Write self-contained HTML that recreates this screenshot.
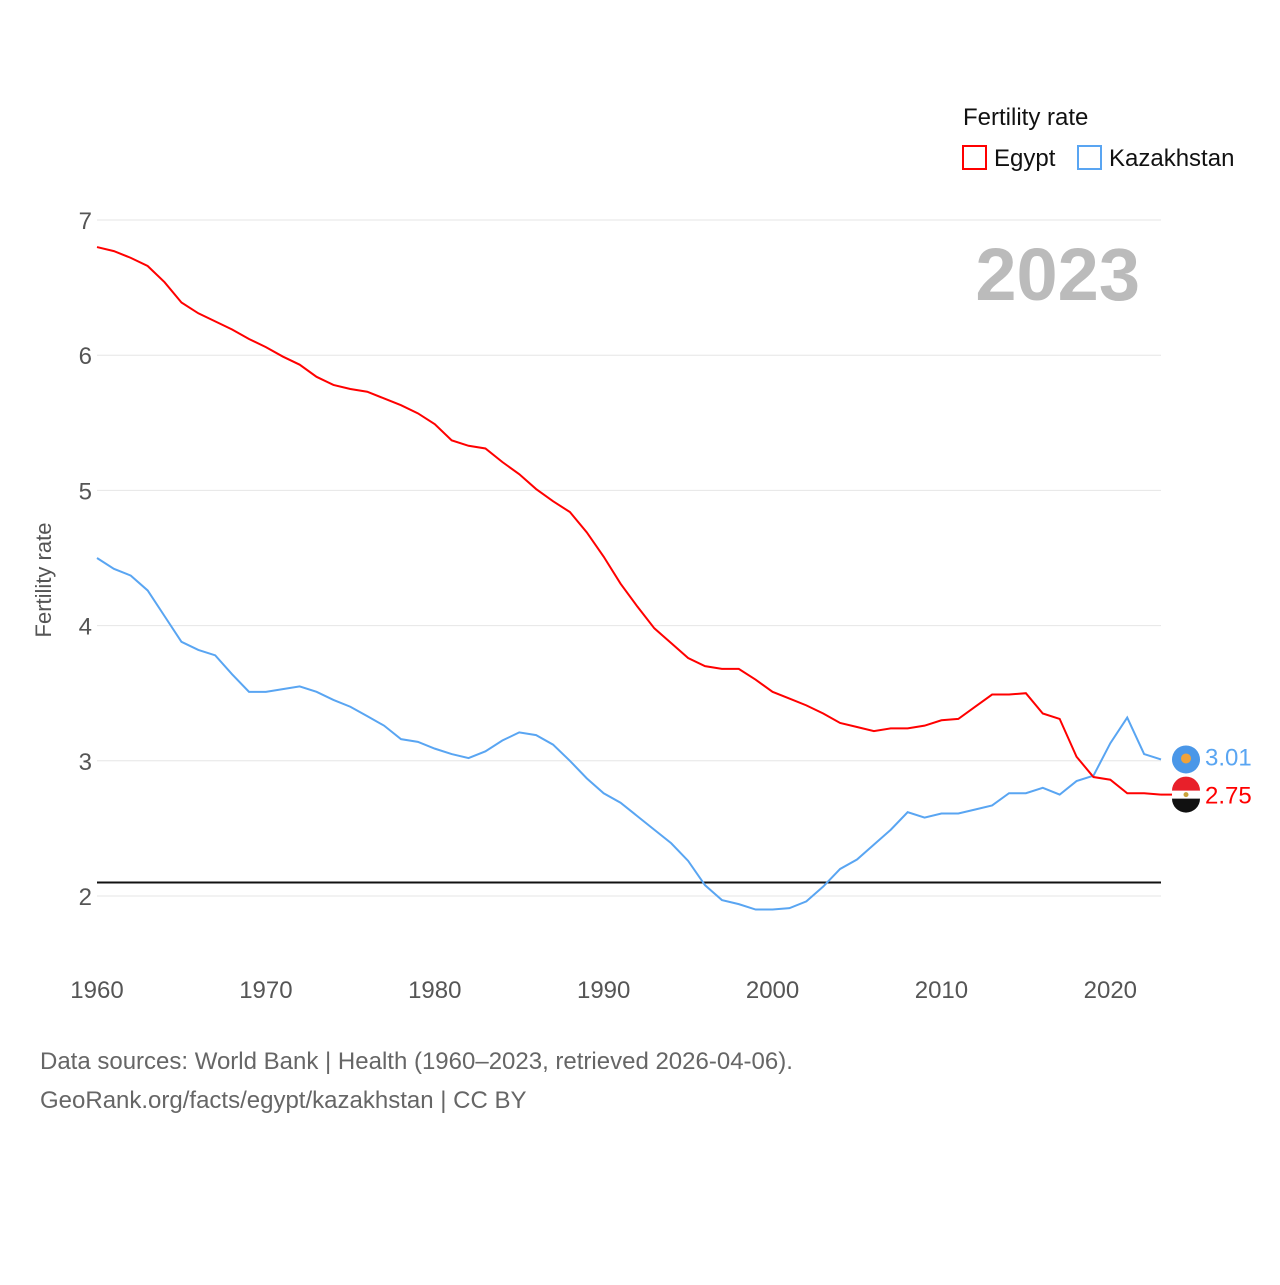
<!DOCTYPE html>
<html><head><meta charset="utf-8"><style>
body{margin:0;background:#fff;font-family:"Liberation Sans",sans-serif}
</style></head><body>
<svg id="c" width="1280" height="1280" viewBox="0 0 1280 1280" style="font-family:'Liberation Sans',sans-serif">
<text x="963" y="125" font-size="24" fill="#111">Fertility rate</text>
<rect x="963" y="146" width="23" height="23" fill="none" stroke="#f00" stroke-width="2"/>
<text x="994" y="166" font-size="24" fill="#111">Egypt</text>
<rect x="1078" y="146" width="23" height="23" fill="none" stroke="#59a5f2" stroke-width="2"/>
<text x="1109" y="166" font-size="24" fill="#111">Kazakhstan</text>
<text x="1140" y="300" font-size="74" font-weight="bold" fill="#bbb" text-anchor="end">2023</text>
<text transform="translate(51,580) rotate(-90)" font-size="22" fill="#555" text-anchor="middle">Fertility rate</text>
<g id="grid"></g><g id="lines"></g><g id="marks"></g>
<text x="40" y="1069" font-size="24" fill="#666">Data sources: World Bank | Health (1960–2023, retrieved 2026-04-06).</text>
<text x="40" y="1108" font-size="24" fill="#666">GeoRank.org/facts/egypt/kazakhstan | CC BY</text>
</svg>
<script>
const years=[];for(let y=1960;y<=2023;y++)years.push(y);
const egypt=[6.80,6.77,6.72,6.66,6.54,6.39,6.31,6.25,6.19,6.12,6.06,5.99,5.93,5.84,5.78,5.75,5.73,5.68,5.63,5.57,5.49,5.37,5.33,5.31,5.21,5.12,5.01,4.92,4.84,4.69,4.51,4.31,4.14,3.98,3.87,3.76,3.70,3.68,3.68,3.60,3.51,3.46,3.41,3.35,3.28,3.25,3.22,3.24,3.24,3.26,3.30,3.31,3.40,3.49,3.49,3.50,3.35,3.31,3.03,2.88,2.86,2.76,2.76,2.75];
const kazakhstan=[4.50,4.42,4.37,4.26,4.07,3.88,3.82,3.78,3.64,3.51,3.51,3.53,3.55,3.51,3.45,3.40,3.33,3.26,3.16,3.14,3.09,3.05,3.02,3.07,3.15,3.21,3.19,3.12,3.00,2.87,2.76,2.69,2.59,2.49,2.39,2.26,2.08,1.97,1.94,1.90,1.90,1.91,1.96,2.07,2.20,2.27,2.38,2.49,2.62,2.58,2.61,2.61,2.64,2.67,2.76,2.76,2.80,2.75,2.85,2.89,3.13,3.32,3.05,3.01];
const yTicks=[2,3,4,5,6,7];
const xTicks=[1960,1970,1980,1990,2000,2010,2020];
const replacement=2.1;
const X=v=>97+(v-1960)*(1161-97)/63;
const Y=v=>896-(v-2)*135.2;
const NS="http://www.w3.org/2000/svg";
function mk(t,a,p){const e=document.createElementNS(NS,t);for(const k in a)e.setAttribute(k,a[k]);p.appendChild(e);return e;}
const g=document.getElementById('grid'),L=document.getElementById('lines'),M=document.getElementById('marks');
yTicks.forEach(t=>{const l=mk('line',{x1:97,x2:1161,y1:Y(t),y2:Y(t),stroke:'#e6e6e6'},g);


const tx=mk('text',{x:92,y:Y(t)+9,'font-size':24,fill:'#555','text-anchor':'end'},g);tx.textContent=t;

});
xTicks.forEach(t=>{const tx=mk('text',{x:X(t),y:998,'font-size':24,fill:'#555','text-anchor':'middle'},g);tx.textContent=t;

});
const rl=mk('line',{x1:97,x2:1161,y1:Y(replacement),y2:Y(replacement),stroke:'#111','stroke-width':2},L);


function series(d,c,n){const p=mk('polyline',{points:d.map((v,i)=>X(years[i])+','+Y(v)).join(' '),fill:'none',stroke:c,'stroke-width':2},L);

}
series(kazakhstan,'#59a5f2','kazakhstan');series(egypt,'#f00','egypt');
const ek=Y(egypt[63]),kk=Y(kazakhstan[63]);
const ef=mk('g',{},M);


mk('line',{x1:X(2023),x2:1172,y1:ek,y2:ek,stroke:'#f00','stroke-width':2},ef);
mk('circle',{cx:1186,cy:ek,r:14,fill:'#fff'},ef);
mk('path',{d:`M1172,${ek-4}a14,14 0 0 1 28,0z`,fill:'#e8202a'},ef);
mk('path',{d:`M1172,${ek+4}a14,14 0 0 0 28,0z`,fill:'#111'},ef);
mk('circle',{cx:1186,cy:ek,r:2.5,fill:'#c9a33a'},ef);
const kf=mk('g',{},M);


mk('circle',{cx:1186,cy:kk,r:14,fill:'#4a97e8'},kf);
mk('circle',{cx:1186,cy:kk-1,r:5,fill:'#f0a23a'},kf);
const ev=mk('text',{x:1205,y:ek+9,'font-size':24,fill:'#f00'},M);ev.textContent=egypt[63].toFixed(2);


const kv=mk('text',{x:1205,y:kk+6,'font-size':24,fill:'#59a5f2'},M);kv.textContent=kazakhstan[63].toFixed(2);


</script>
</body></html>
